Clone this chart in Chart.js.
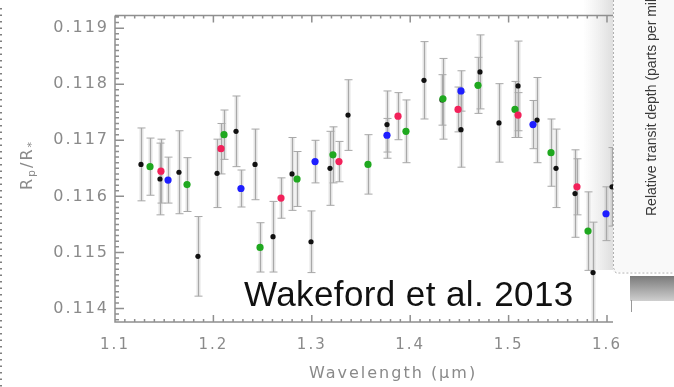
<!DOCTYPE html>
<html><head><meta charset="utf-8">
<script src="https://cdn.jsdelivr.net/npm/chart.js@4"></script>
<style>html,body{margin:0;padding:0;background:#fff;}#c{display:block;}</style>
</head><body>
<canvas id="c" width="674" height="387"></canvas>
<script>
const xTickLabels = [1.1, 1.2, 1.3, 1.4, 1.5, 1.6];
const yTickLabels = [0.114, 0.115, 0.116, 0.117, 0.118, 0.119];

const blackX = [1.1264,1.1457,1.1650,1.1843,1.2037,1.2230,1.2423,1.2606,1.2799,1.2992,1.3185,1.3368,1.3764,1.4140,1.4323,1.4516,1.4709,1.4902,1.5096,1.5289,1.5482,1.5675,1.5858,1.6051];
const blackY = [0.11657,0.11631,0.11643,0.11493,0.11641,0.11716,0.11657,0.11528,0.11640,0.11519,0.11650,0.11745,0.11728,0.11807,0.11772,0.11719,0.11822,0.11731,0.11797,0.11736,0.11650,0.11605,0.11464,0.11617];
const blackErr = [0.00065,0.00064,0.00074,0.00071,0.00061,0.00063,0.00063,0.00063,0.00065,0.00055,0.00066,0.00063,0.00060,0.00069,0.00045,0.00067,0.00066,0.00070,0.00080,0.00076,0.00070,0.00078,0.00090,0.00070];

const redX = [1.1467,1.2077,1.2687,1.3276,1.3876,1.4486,1.5096,1.5695];
const redY = [0.11645,0.11685,0.11597,0.11662,0.11743,0.11755,0.11745,0.11617];
const redErr = [0.00057,0.00045,0.00036,0.00036,0.00042,0.00040,0.00040,0.00050];

const greenX = [1.1356,1.1732,1.2108,1.2474,1.2850,1.3215,1.3571,1.3957,1.4333,1.4689,1.5065,1.5431,1.5807];
const greenY = [0.11653,0.11621,0.11710,0.11509,0.11631,0.11674,0.11657,0.11716,0.11774,0.11798,0.11755,0.11678,0.11538];
const greenErr = [0.00051,0.00048,0.00044,0.00044,0.00049,0.00050,0.00053,0.00056,0.00072,0.00050,0.00050,0.00060,0.00070];

const blueX = [1.1539,1.2280,1.3033,1.3764,1.4516,1.5248,1.5990];
const blueY = [0.11629,0.11614,0.11662,0.11709,0.11788,0.11728,0.11569];
const blueErr = [0.00041,0.00033,0.00038,0.00030,0.00036,0.00043,0.00048];

function pts(xs, ys, es){ return xs.map((x,i)=>({x:x, y:ys[i], e:es[i]})); }

Chart.defaults.font.family = "'DejaVu Sans', sans-serif";

const extras = {
  id: 'extras',
  beforeDraw(chart){ chart.ctx.letterSpacing = '2px'; },
  beforeDatasetsDraw(chart){
    const ctx = chart.ctx, a = chart.chartArea, W = chart.width, H = chart.height;
    ctx.save();
    ctx.letterSpacing = '0px';
    // right-hand fragment of the neighbouring figure
    ctx.fillStyle = '#f9f9f9';
    ctx.fillRect(613, 0, W - 613, 272);
    const g = ctx.createLinearGradient(583, 0, 613, 0);
    g.addColorStop(0, 'rgba(230,230,230,0)');
    g.addColorStop(1, 'rgba(222,222,222,1)');
    ctx.fillStyle = g;
    ctx.fillRect(583, 0, 30, 270);
    ctx.strokeStyle = '#b0b0b0'; ctx.lineWidth = 1; ctx.setLineDash([2,2]);
    ctx.beginPath(); ctx.moveTo(613.5, 0); ctx.lineTo(613.5, 268);
    ctx.lineTo(616, 273); ctx.lineTo(W, 273); ctx.stroke();
    ctx.setLineDash([]);
    const g2 = ctx.createLinearGradient(0, 276, 0, 301);
    g2.addColorStop(0, '#7a7a7a'); g2.addColorStop(1, '#cfcfcf');
    ctx.fillStyle = g2; ctx.fillRect(630, 276, W - 630, 25);
    ctx.strokeStyle = '#999'; ctx.beginPath(); ctx.moveTo(631.5, 300); ctx.lineTo(631.5, 312); ctx.stroke();
    // left edge dotted line
    ctx.strokeStyle = '#555'; ctx.setLineDash([1.5, 5]); ctx.lineWidth = 1.5;
    ctx.beginPath(); ctx.moveTo(1, 8); ctx.lineTo(1, H); ctx.stroke();
    ctx.setLineDash([]);
    ctx.restore();

    // error bars
    const xs = chart.scales.x, ys = chart.scales.y;
    ctx.save();
    ctx.beginPath(); ctx.rect(a.left, a.top, a.right - a.left, a.bottom - a.top); ctx.clip();
    chart.data.datasets.forEach(ds => {
      ds.data.forEach(p => {
        const px = Math.round(xs.getPixelForValue(p.x)) + 0.5;
        const y1 = ys.getPixelForValue(p.y + p.e);
        const y2 = ys.getPixelForValue(p.y - p.e);
        ctx.strokeStyle = 'rgba(175,175,175,0.35)'; ctx.lineWidth = 4;
        ctx.beginPath(); ctx.moveTo(px, y1); ctx.lineTo(px, y2); ctx.stroke();
        ctx.strokeStyle = '#a8a8a8'; ctx.lineWidth = 1;
        ctx.beginPath(); ctx.moveTo(px, y1); ctx.lineTo(px, y2);
        ctx.moveTo(px - 4, y1); ctx.lineTo(px + 4, y1);
        ctx.moveTo(px - 4, y2); ctx.lineTo(px + 4, y2);
        ctx.stroke();
      });
    });
    ctx.restore();
  },
  afterDatasetsDraw(chart){
    const ctx = chart.ctx, a = chart.chartArea;
    const xs = chart.scales.x, ys = chart.scales.y;
    ctx.save();
    ctx.strokeStyle = '#8f8f8f'; ctx.lineWidth = 1.5;
    ctx.beginPath();
    ctx.moveTo(a.left, a.top); ctx.lineTo(a.right, a.top);
    ctx.moveTo(a.left, a.top); ctx.lineTo(a.left, a.bottom); ctx.lineTo(a.right, a.bottom);
    for (let i = 110; i <= 160; i++) {
      const px = xs.getPixelForValue(i / 100);
      const L = (i % 10 === 0) ? 7 : 3;
      ctx.moveTo(px, a.bottom); ctx.lineTo(px, a.bottom - L);
      ctx.moveTo(px, a.top); ctx.lineTo(px, a.top + L);
    }
    for (let i = 1138; i <= 1192; i++) {
      const py = ys.getPixelForValue(i / 10000);
      const L = (i % 10 === 0) ? 9 : 4;
      ctx.moveTo(a.left, py); ctx.lineTo(a.left + L, py);
    }
    ctx.stroke();
    ctx.restore();
  },
  afterDraw(chart){
    const ctx = chart.ctx;
    ctx.save();
    // x axis title
    ctx.fillStyle = '#8a8a8a';
    ctx.letterSpacing = '2px';
    ctx.font = "16px 'DejaVu Sans'";
    ctx.textAlign = 'center'; ctx.textBaseline = 'alphabetic';
    ctx.fillText('Wavelength (\u03bcm)', 393, 378);
    // y axis title R_p/R_*
    ctx.save();
    ctx.translate(28, 165); ctx.rotate(-Math.PI / 2);
    const big = "16px 'DejaVu Sans'", small = "11px 'DejaVu Sans'";
    const parts = [['R', big, 0], ['p', small, 4], ['/R', big, 0], ['*', small, 4]];
    let tw = 0;
    parts.forEach(p => { ctx.font = p[1]; tw += ctx.measureText(p[0]).width; });
    let cx = -tw / 2;
    ctx.textAlign = 'left'; ctx.textBaseline = 'middle';
    parts.forEach(p => { ctx.font = p[1]; ctx.fillText(p[0], cx, p[2]); cx += ctx.measureText(p[0]).width; });
    ctx.restore();
    // neighbouring figure's rotated label
    ctx.save();
    ctx.letterSpacing = '0px';
    ctx.fillStyle = '#3a3a3a';
    ctx.font = "14px 'Liberation Sans'";
    ctx.translate(652, 216); ctx.rotate(-Math.PI / 2);
    ctx.textAlign = 'left'; ctx.textBaseline = 'middle';
    ctx.fillText('Relative transit depth (parts per million)', 0, 0);
    ctx.restore();
    // citation
    ctx.letterSpacing = '0.4px';
    ctx.fillStyle = '#111';
    ctx.font = "35px 'Liberation Sans'";
    ctx.textAlign = 'left'; ctx.textBaseline = 'alphabetic';
    ctx.fillText('Wakeford et al. 2013', 244, 306);
    ctx.restore();
  }
};

new Chart(document.getElementById('c'), {
  type: 'scatter',
  data: {
    datasets: [
      { label: 'red', data: pts(redX, redY, redErr), backgroundColor: '#f2215a', pointRadius: 3.6, borderWidth: 0 },
      { label: 'green', data: pts(greenX, greenY, greenErr), backgroundColor: '#1fa81f', pointRadius: 3.6, borderWidth: 0 },
      { label: 'blue', data: pts(blueX, blueY, blueErr), backgroundColor: '#1e1eff', pointRadius: 3.6, borderWidth: 0 },
      { label: 'black', data: pts(blackX, blackY, blackErr), backgroundColor: '#111', pointRadius: 2.6, borderWidth: 0 }
    ]
  },
  options: {
    responsive: false,
    animation: false,
    devicePixelRatio: 1,
    layout: { padding: { left: 0, right: 61, top: 5, bottom: 0 } },
    plugins: { legend: { display: false }, tooltip: { enabled: false } },
    scales: {
      x: {
        type: 'linear', min: 1.1, max: 1.6061,
        grid: { display: false, drawTicks: false },
        border: { display: false },
        afterBuildTicks: s => { s.ticks = xTickLabels.map(v => ({ value: v })); },
        afterFit: s => { s.height = 65; },
        ticks: { color: '#8a8a8a', font: { size: 15 }, padding: 14, maxRotation: 0, autoSkip: false,
                 callback: v => v.toFixed(1) }
      },
      y: {
        type: 'linear', min: 0.113759, max: 0.119224,
        grid: { display: false, drawTicks: false },
        border: { display: false },
        afterBuildTicks: s => { s.ticks = yTickLabels.map(v => ({ value: v })); },
        afterFit: s => { s.width = 115; },
        ticks: { color: '#8a8a8a', font: { size: 16 }, padding: 6, autoSkip: false,
                 callback: v => v.toFixed(3) }
      }
    }
  },
  plugins: [extras]
});
</script>
</body></html>
